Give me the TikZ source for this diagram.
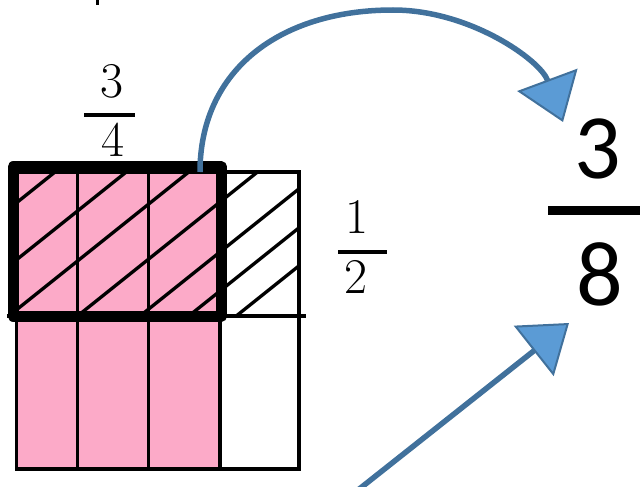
\documentclass[tikz,border=0pt]{standalone}
\usepackage{fontspec}
\newfontfamily\calibrifont{Carlito}
\usetikzlibrary{arrows.meta}
\definecolor{pinkfill}{RGB}{252,170,200}
\definecolor{arrowline}{RGB}{65,113,156}
\definecolor{arrowfill}{RGB}{91,155,213}

\begin{document}
\begin{tikzpicture}[x=1pt,y=-1pt,
    gridline/.style={line width=3.2pt},
    hatch/.style={line width=3.3pt},
    fracbar/.style={line width=4pt},
    bigarrow/.style={arrowline,line width=5.5pt,
      -{Triangle[length=45pt,width=64pt,fill=arrowfill,line width=2pt]}},
    smalldigit/.style={inner sep=0pt,font=\fontsize{50}{50}\selectfont},
    bigdigit/.style={inner sep=0pt,font=\calibrifont\fontsize{92}{92}\selectfont}]
  \useasboundingbox (0,0) rectangle (641,487);
  \fill[pinkfill] (17,172) rectangle (220,469);
  % hatching of the upper half
  \begin{scope}
    \clip (16,172) rectangle (299,316);
    \foreach \c in {216,273,323,378,428,467,505}
      \draw[hatch] (0,\c) -- (320,\c-256);
  \end{scope}
  \draw[gridline] (16.5,172) rectangle (299,469);
  \foreach \x in {77.5,148.5,220}
    \draw[gridline] (\x,172) -- (\x,469);
  \draw[gridline] (7,316) -- (306,316);
  \draw[line width=11pt,line join=round] (13,167) rectangle (221.5,316);
  \draw[line width=3pt] (97,0) -- (97,5);
  % fractions
  \node[smalldigit] (num34) at (112,81) {3};
  \draw[fracbar] (84,115) -- (135,115);
  \node[smalldigit] (den34) at (113,140) {4};
  \node[smalldigit] (num12) at (357,217) {1};
  \draw[fracbar] (338,252) -- (387,252);
  \node[smalldigit] (den12) at (356,277) {2};
  \node[bigdigit] (num38) at (598,149) {3};
  \draw[line width=9pt] (548,210) -- (640,210);
  \node[bigdigit] (den38) at (600,274) {8};
  % arrows
  \coordinate (arcstart) at (200,172);
  \coordinate (arcend) at (563,122);
  \coordinate (linestart) at (358,490);
  \coordinate (lineend) at (569,323);
  \draw[bigarrow] (arcstart) .. controls (200,70) and (280,10) .. (393,10)
    .. controls (470,10) and (540,60) .. (arcend);
  \draw[bigarrow] (linestart) -- (lineend);
  %\draw[red] (0,0) grid[step=50] (641,487);
\end{tikzpicture}
\end{document}
